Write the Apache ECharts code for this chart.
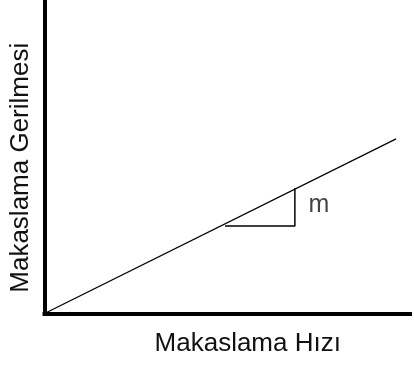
<!DOCTYPE html>
<html>
<head>
<meta charset="utf-8">
<script src="https://cdn.jsdelivr.net/npm/echarts@6/dist/echarts.min.js"></script>
<style>html,body{margin:0;padding:0;background:#fff;}#c{width:414px;height:365px;}</style>
</head>
<body>
<div id="c"></div>
<script>
const xAxisName = 'Makaslama Hızı';
const yAxisName = 'Makaslama Gerilmesi';
const lineX = [0, 96.2];
const lineY = [0, 55.7];
const slopeX = [49.4, 68.5, 68.5];
const slopeY = [27.9, 27.9, 40.0];
const slopeLabelX = [75.1];
const slopeLabelY = [34.6];
const slopeLabelText = ['m'];

const FONT = 'Liberation Sans, Arial, sans-serif';
const chart = echarts.init(document.getElementById('c'), null, {renderer: 'canvas'});
chart.setOption({
  animation: false,
  backgroundColor: '#fff',
  grid: {left: 44.5, right: 4, top: 0, bottom: 51.5, containLabel: false},
  xAxis: {
    type: 'value', min: 0, max: 100,
    name: xAxisName, nameLocation: 'middle', nameGap: 17.5,
    nameTextStyle: {fontFamily: FONT, fontSize: 26, color: '#111', padding: [0, 0, 0, 41]},
    axisLine: {show: true, onZero: false, lineStyle: {color: '#000', width: 4, cap: 'square'}},
    axisTick: {show: false}, axisLabel: {show: false}, splitLine: {show: false}
  },
  yAxis: {
    type: 'value', min: 0, max: 100,
    name: yAxisName, nameLocation: 'middle', nameGap: 10.5, nameRotate: 90,
    nameTextStyle: {fontFamily: FONT, fontSize: 26, color: '#111', padding: [0, 22, 0, 0]},
    axisLine: {show: true, onZero: false, lineStyle: {color: '#000', width: 4, cap: 'square'}},
    axisTick: {show: false}, axisLabel: {show: false}, splitLine: {show: false}
  },
  series: [
    {
      type: 'line', symbol: 'none', silent: true,
      data: lineX.map((x, i) => [x, lineY[i]]),
      lineStyle: {color: '#000', width: 1.2}
    },
    {
      type: 'line', symbol: 'none', silent: true,
      data: slopeX.map((x, i) => [x, slopeY[i]]),
      lineStyle: {color: '#000', width: 1.5}
    },
    {
      type: 'scatter', symbolSize: 0, silent: true,
      data: slopeLabelX.map((x, i) => ({value: [x, slopeLabelY[i]], name: slopeLabelText[i]})),
      label: {show: true, position: 'inside', formatter: p => p.name,
        fontFamily: FONT, fontSize: 25, color: '#111', align: 'center', verticalAlign: 'middle'}
    }
  ]
});
</script>
</body>
</html>
